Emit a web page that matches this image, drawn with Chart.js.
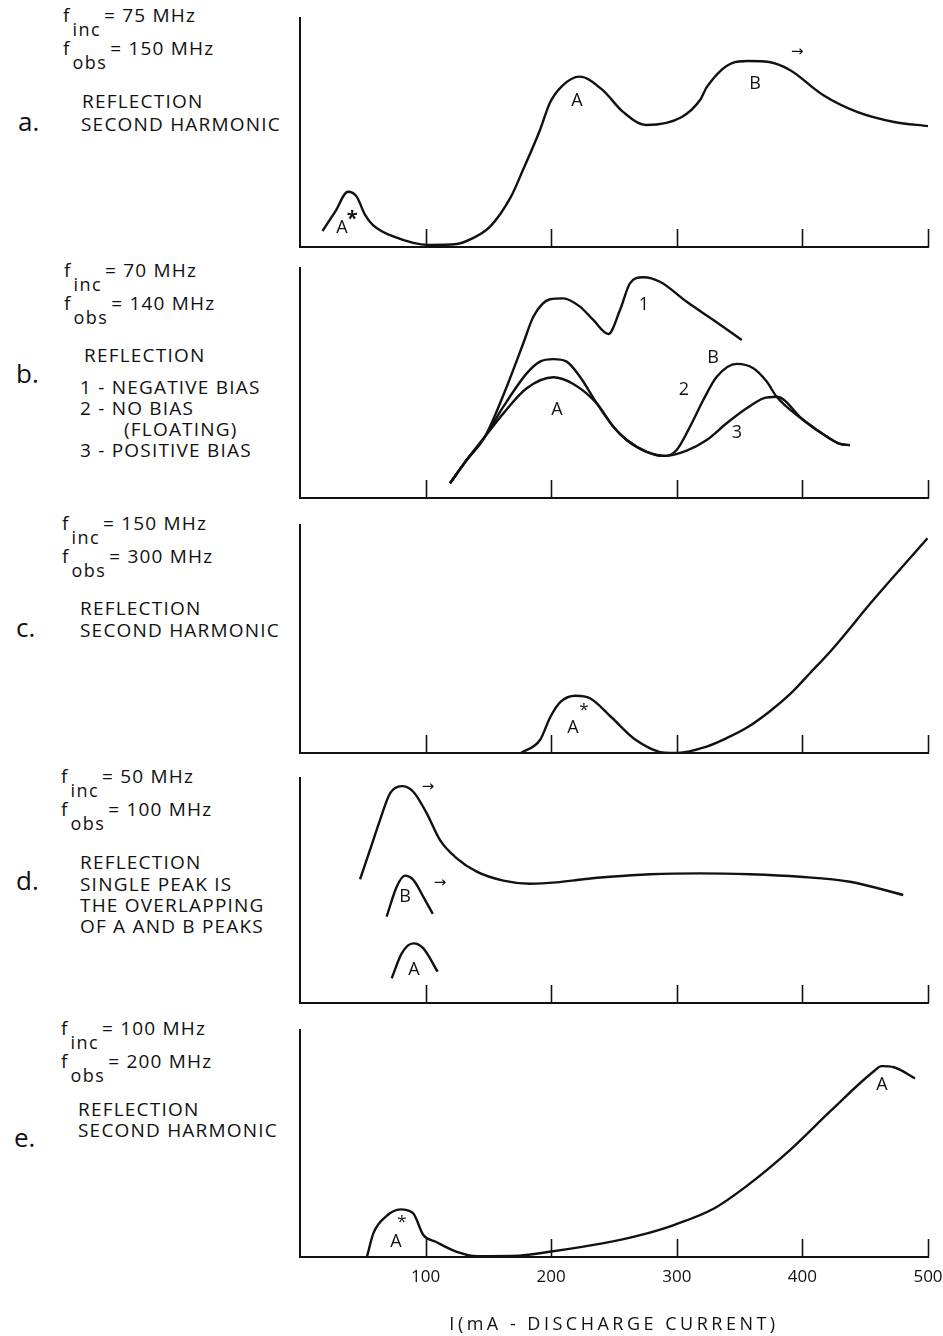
<!DOCTYPE html>
<html><head><meta charset="utf-8">
<script src="https://cdn.jsdelivr.net/npm/chart.js@4.4.1/dist/chart.umd.min.js"></script>
<style>
html,body{margin:0;padding:0;background:#fff;}
body{width:943px;height:1336px;position:relative;overflow:hidden;font-family:"Open Sans",sans-serif;color:#111;}
canvas{position:absolute;left:0;}
.t{position:absolute;white-space:nowrap;font-size:19px;letter-spacing:1.2px;line-height:22px;}
.f{position:absolute;white-space:nowrap;font-size:19px;letter-spacing:1.2px;line-height:22px;}
.f sub{font-size:18px;letter-spacing:1.4px;vertical-align:-14px;line-height:0;margin:0 3px 0 2px;}
.p{position:absolute;font-size:26px;line-height:30px;}
</style></head><body>

<!-- panel a text -->
<div class="f" style="left:63px;top:4px">f<sub>inc</sub>= 75 MHz</div>
<div class="f" style="left:63px;top:37px">f<sub>obs</sub>= 150 MHz</div>
<div class="t" style="left:82px;top:90px">REFLECTION</div>
<div class="t" style="left:81px;top:113px">SECOND HARMONIC</div>
<div class="p" style="left:18px;top:106px">a.</div>

<!-- panel b text -->
<div class="f" style="left:64px;top:259px">f<sub>inc</sub>= 70 MHz</div>
<div class="f" style="left:64px;top:292px">f<sub>obs</sub>= 140 MHz</div>
<div class="t" style="left:84px;top:344px">REFLECTION</div>
<div class="t" style="left:80px;top:376px">1 - NEGATIVE BIAS</div>
<div class="t" style="left:80px;top:397px">2 - NO BIAS</div>
<div class="t" style="left:124px;top:418px">(FLOATING)</div>
<div class="t" style="left:80px;top:439px">3 - POSITIVE BIAS</div>
<div class="p" style="left:16px;top:358px">b.</div>

<!-- panel c text -->
<div class="f" style="left:62px;top:512px">f<sub>inc</sub>= 150 MHz</div>
<div class="f" style="left:62px;top:545px">f<sub>obs</sub>= 300 MHz</div>
<div class="t" style="left:80px;top:597px">REFLECTION</div>
<div class="t" style="left:80px;top:619px">SECOND HARMONIC</div>
<div class="p" style="left:16px;top:612px">c.</div>

<!-- panel d text -->
<div class="f" style="left:61px;top:765px">f<sub>inc</sub>= 50 MHz</div>
<div class="f" style="left:61px;top:798px">f<sub>obs</sub>= 100 MHz</div>
<div class="t" style="left:80px;top:851px">REFLECTION</div>
<div class="t" style="left:80px;top:873px">SINGLE PEAK IS</div>
<div class="t" style="left:80px;top:894px">THE OVERLAPPING</div>
<div class="t" style="left:80px;top:915px">OF A AND B PEAKS</div>
<div class="p" style="left:16px;top:865px">d.</div>

<!-- panel e text -->
<div class="f" style="left:61px;top:1017px">f<sub>inc</sub>= 100 MHz</div>
<div class="f" style="left:61px;top:1050px">f<sub>obs</sub>= 200 MHz</div>
<div class="t" style="left:78px;top:1098px">REFLECTION</div>
<div class="t" style="left:78px;top:1119px">SECOND HARMONIC</div>
<div class="p" style="left:14px;top:1122px">e.</div>

<canvas id="ca" width="943" height="245" style="top:8px"></canvas>
<canvas id="cb" width="943" height="246" style="top:258px"></canvas>
<canvas id="cc" width="943" height="244" style="top:515px"></canvas>
<canvas id="cd" width="943" height="241" style="top:768px"></canvas>
<canvas id="ce" width="943" height="317" style="top:1020px"></canvas>

<script>
// ---- data (x: discharge current in mA, y: relative signal, 0-100) ----
const tickValues = [100, 200, 300, 400, 500];
const tickLabels = ['100', '200', '300', '400', '500'];
const axisTitle = 'I(mA - DISCHARGE CURRENT)';

// a. 75 MHz -> 150 MHz, reflection second harmonic
const currentA = [17.9, 27.9, 38.2, 45.1, 51.8, 58.1, 74.8, 102.5, 124.8, 134.6, 151.3, 168, 177.5, 191, 199, 208.6, 222.6, 240.8, 257.2, 275.5, 304, 318.5, 324, 344, 356.7, 373.4, 390, 416.4, 443.5, 473, 500];
const signalA  = [7, 15.3, 24.1, 22, 14, 9.6, 4.5, 0.9, 1.3, 3.1, 8.9, 22, 33.6, 51, 63, 70.3, 74.4, 68.6, 59, 53.3, 56.8, 64.2, 69.9, 80.3, 81.2, 80.8, 77.3, 66.4, 59, 54.6, 52.8];

// b. 70 MHz -> 140 MHz, reflection; 1 negative bias, 2 no bias, 3 positive bias
const currentB1 = [119.4, 132.7, 147.3, 164.6, 177.8, 185.8, 199, 209.6, 222.9, 233.5, 245.5, 254.8, 262.7, 273.3, 286.6, 307.9, 329.1, 351.7];
const signalB1  = [6.4, 16.5, 26.7, 48.4, 67.3, 78.8, 86.4, 86.8, 83.2, 77.4, 71.3, 81.7, 93.3, 96, 94, 85.3, 77.4, 68.7];
const currentB2 = [119.4, 132.7, 147.3, 161.9, 180.5, 191.1, 201.7, 212.3, 222.9, 236.2, 249.5, 260.1, 276, 290.6, 299.9, 310.5, 321.1, 331.8, 347.7, 360.9, 371.6, 379.5, 400.7, 419.3, 430, 437.9];
const signalB2  = [6.4, 16.5, 26.7, 39.7, 54.2, 59.3, 60.4, 59.3, 52.7, 41.2, 31, 25.2, 20.1, 18.3, 20.9, 31, 42.6, 52.7, 58.3, 56.4, 50.6, 44, 33.9, 26.7, 23.5, 23];
const currentB3 = [119.4, 132.7, 147.3, 161.9, 180.5, 201.7, 217.6, 236.2, 249.5, 260.1, 276, 290.6, 307.9, 323.8, 339.7, 355.6, 368.9, 379.5, 400.7, 419.3, 430, 437.9];
const signalB3  = [6.4, 16.5, 26.7, 36.8, 47.7, 52.5, 49.6, 41.2, 31, 25.2, 20.1, 18.3, 20.6, 25.2, 32.5, 39, 43.3, 44, 33.9, 26.7, 23.5, 23];

// c. 150 MHz -> 300 MHz, reflection second harmonic
const currentC = [176.2, 191.1, 199.4, 207.6, 219.3, 230.9, 247.5, 267.4, 290.6, 300.6, 323.8, 340, 356.9, 373.4, 390.1, 406, 423.3, 456.4, 499.6];
const signalC  = [0.1, 5.7, 15.9, 22.5, 25.1, 24, 15.9, 5.7, 0.1, 0, 2.8, 6.6, 11.5, 18, 25.8, 35, 45.2, 67.1, 94.2];

// d. 50 MHz -> 100 MHz, reflection; single peak + separate B and A peaks
const currentD  = [47.8, 55.7, 63.7, 71.7, 81, 90.2, 100.9, 111.5, 124.8, 140.7, 161.9, 183.1, 204.4, 225.6, 246.8, 278.7, 318.5, 358.3, 398.1, 437.9, 480.3];
const signalD   = [55, 68, 81.3, 93.2, 96.4, 93.9, 84.3, 72.4, 64.3, 58.4, 54.4, 53, 53.6, 55, 56.1, 57.2, 57.6, 57.2, 56.1, 53.9, 48];
const currentDB = [69, 77, 83.6, 90.2, 98.2, 105.7];
const signalDB  = [38.4, 51.7, 56.6, 54.7, 47.2, 39.6];
const currentDA = [73, 81, 90.2, 98.2, 109.6];
const signalDA  = [11, 22.1, 26.5, 24.3, 13.9];

// e. 100 MHz -> 200 MHz, reflection second harmonic
const currentE = [53.3, 58.4, 68.3, 79.9, 90, 98.2, 108.1, 124.8, 141.3, 174.4, 198.7, 240.8, 270, 298.2, 330, 355, 390.1, 423.3, 456.4, 463.1, 472.9, 489.6];
const signalE  = [0.1, 10.4, 17.8, 21, 19.3, 9.7, 6.7, 2.3, 0.4, 0.6, 2.3, 6, 9.5, 14.2, 21.5, 31, 47.1, 64.8, 81.6, 84.1, 83.6, 78.7];

// ---- chart building ----
const INK = '#111';
const FONT = '"Open Sans", sans-serif';

function series(xs, ys) {
  return {
    data: xs.map((x, i) => ({ x: x, y: ys[i] })),
    borderColor: INK, borderWidth: 2.4, pointRadius: 0,
    cubicInterpolationMode: 'monotone', fill: false
  };
}

const marks = {
  id: 'marks',
  beforeDraw(chart) {
    // widen the letter spacing of the x-axis title only
    const s = chart.scales.x;
    if (s && !s._spaced) {
      const orig = s.drawTitle.bind(s);
      s.drawTitle = function () {
        const ctx = this.ctx;
        const prev = ctx.letterSpacing;
        ctx.letterSpacing = '3.5px';
        orig();
        ctx.letterSpacing = prev || '0px';
      };
      s._spaced = true;
    }
  },
  afterDatasetsDraw(chart, args, opts) {
    const { ctx, scales: { x, y } } = chart;
    ctx.save();
    ctx.strokeStyle = INK;
    ctx.lineWidth = 1.6;
    const base = y.getPixelForValue(0);
    tickValues.forEach(v => {
      const px = Math.round(x.getPixelForValue(v)) + 0.5;
      ctx.beginPath(); ctx.moveTo(px, base); ctx.lineTo(px, base - 18); ctx.stroke();
    });
    ctx.fillStyle = INK;
    ctx.textAlign = 'center';
    ctx.textBaseline = 'middle';
    (opts.labels || []).forEach(l => {
      ctx.font = (l.bold ? 'bold ' : '') + (l.size || 18) + 'px ' + (l.family || FONT);
      ctx.fillText(l.text, x.getPixelForValue(l.x), y.getPixelForValue(l.y));
    });
    ctx.restore();
  }
};

function makeChart(id, datasets, labels, showAxis) {
  return new Chart(document.getElementById(id), {
    type: 'line',
    data: { datasets: datasets },
    options: {
      responsive: false, animation: false, events: [],
      layout: { padding: { left: 300, right: 15, top: 10, bottom: showAxis ? 0 : 6 } },
      plugins: { legend: { display: false }, tooltip: { enabled: false }, marks: { labels: labels } },
      scales: {
        x: {
          type: 'linear', min: 0, max: 500,
          grid: { display: false, drawTicks: false },
          border: { display: true, color: INK, width: 2 },
          ticks: {
            display: showAxis, stepSize: 100, padding: 10, color: INK, maxRotation: 0,
            font: { family: FONT, size: 17 },
            callback: v => { const i = tickValues.indexOf(v); return i >= 0 ? tickLabels[i] : ''; }
          },
          title: {
            display: showAxis, text: axisTitle, color: INK,
            font: { family: FONT, size: 18 }, padding: { top: 0, bottom: 1 }
          },
          afterFit: s => { s.height = showAxis ? 80 : 0; s.paddingLeft = 0; s.paddingRight = 0; }
        },
        y: {
          min: 0, max: 100,
          grid: { display: false, drawTicks: false },
          border: { display: true, color: INK, width: 2 },
          ticks: { display: false },
          afterFit: s => { s.width = 0; s.paddingTop = 0; s.paddingBottom = 0; }
        }
      }
    },
    plugins: [marks]
  });
}

const ARROW = '"DejaVu Sans", sans-serif';

makeChart('ca', [series(currentA, signalA)], [
  { text: 'A', x: 220.5, y: 63.8 },
  { text: 'B', x: 362.3, y: 71.2 },
  { text: '→', x: 396, y: 85, size: 15, family: ARROW },
  { text: 'A', x: 33.4, y: 8.3 },
  { text: '*', x: 41.6, y: 12, size: 20, bold: true }
], false);

makeChart('cb', [series(currentB1, signalB1), series(currentB2, signalB2), series(currentB3, signalB3)], [
  { text: '1', x: 273.9, y: 83.9 },
  { text: 'B', x: 328.8, y: 60.9 },
  { text: '2', x: 305.7, y: 47 },
  { text: '3', x: 347.9, y: 28.3 },
  { text: 'A', x: 204.6, y: 38.3 }
], false);

makeChart('cc', [series(currentC, signalC)], [
  { text: 'A', x: 217.4, y: 11 },
  { text: '*', x: 226.1, y: 18.9, size: 17 }
], false);

makeChart('cd', [series(currentD, signalD), series(currentDB, signalDB), series(currentDA, signalDA)], [
  { text: '→', x: 101.9, y: 96, size: 15, family: ARROW },
  { text: 'B', x: 83.6, y: 47.1 },
  { text: '→', x: 111.5, y: 53.3, size: 15, family: ARROW },
  { text: 'A', x: 90.8, y: 14.7 }
], false);

makeChart('ce', [series(currentE, signalE)], [
  { text: 'A', x: 76.4, y: 6.6 },
  { text: '*', x: 81.2, y: 15.4, size: 17 },
  { text: 'A', x: 463.4, y: 75.8 }
], true);
</script>
</body></html>
